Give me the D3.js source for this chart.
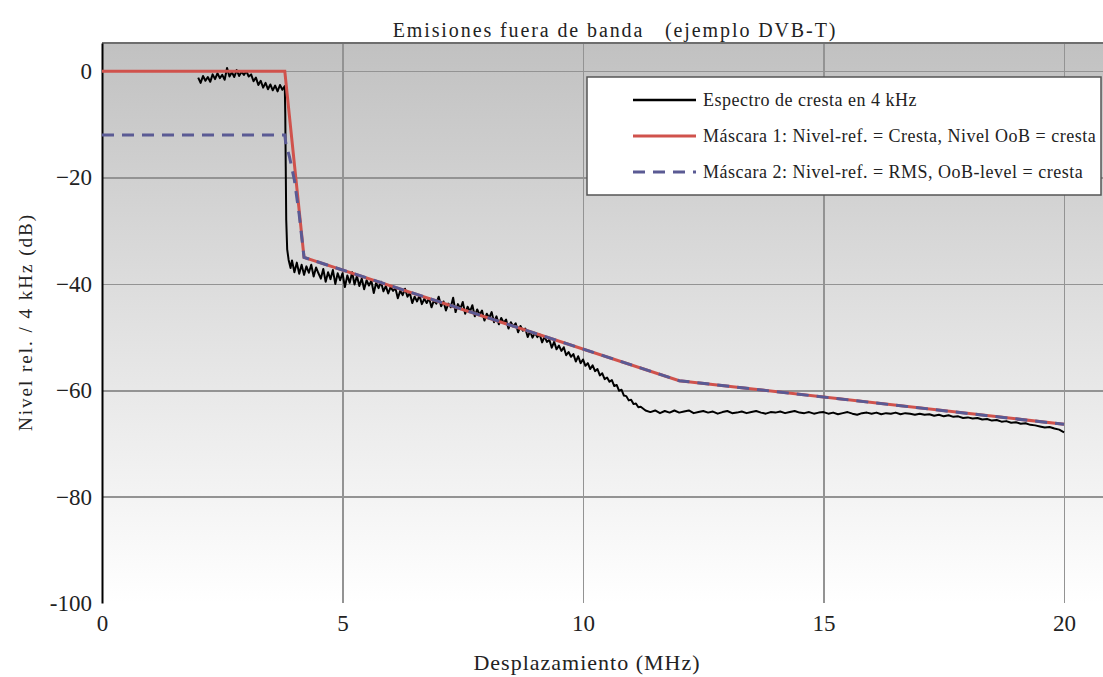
<!DOCTYPE html>
<html>
<head>
  <meta charset="utf-8">
  <title>Emisiones fuera de banda</title>
  <script src="https://cdn.jsdelivr.net/npm/d3@7"></script>
  <style type="text/css">
    body { margin: 0; background: #fff; }
    .grid line { stroke: #939393; stroke-width: 1.5; shape-rendering: crispEdges; }
  </style>
</head>
<body>
<script>
  var w = 1103, h = 677;
  var serif = "'Liberation Serif', 'Times New Roman', Times, serif";

  var xTicks = [0, 5, 10, 15, 20];
  var yTicks = [0, -20, -40, -60, -80, -100];
  var yTickLabels = ["0", "\u221220", "\u221240", "\u221260", "\u221280", "-100"];

  var legendLabels = [
    "Espectro de cresta en 4 kHz",
    "M\u00e1scara 1: Nivel-ref. = Cresta, Nivel OoB = cresta",
    "M\u00e1scara 2: Nivel-ref. = RMS, OoB-level = cresta"
  ];

  // mascara 1 (MHz, dB)
  var mask1 = [[0, 0], [3.8, 0], [4.2, -35], [12, -58.2], [20, -66.4]];
  // mascara 2
  var mask2 = [[0, -12], [3.8, -12], [3.82, -13.5], [3.9, -16.2], [4.0, -20.5],
               [4.1, -27], [4.2, -35], [12, -58.2], [20, -66.4]];

  // espectro medido, leido a mano del grafico
  var spectrum = [
    [2.00,-1.2],[2.05,-2.2],[2.10,-0.9],[2.15,-1.8],[2.20,-1.1],[2.25,-2.0],[2.30,-0.6],[2.35,-1.5],
    [2.40,-0.4],[2.45,-1.3],[2.50,-0.7],[2.55,-1.6],[2.60,0.6],[2.65,-1.0],[2.70,-0.2],[2.75,-1.1],
    [2.80,0.2],[2.85,-0.9],[2.90,-0.1],[2.95,-0.7],[3.00,0.0],[3.05,-1.0],[3.10,-0.6],[3.15,-1.9],
    [3.20,-1.2],[3.25,-2.6],[3.30,-1.8],[3.35,-3.1],[3.40,-2.2],[3.45,-3.4],[3.50,-2.5],[3.55,-3.6],
    [3.60,-2.7],[3.65,-3.8],[3.70,-2.6],[3.75,-3.5],[3.80,-2.8],[3.81,-8],[3.82,-18],[3.83,-28],
    [3.85,-33.5],[3.88,-35.5],[3.92,-37.0],[3.95,-35.6],[4.00,-37.8],[4.05,-36.0],[4.10,-38.1],[4.15,-36.4],
    [4.20,-38.3],[4.25,-36.7],[4.30,-37.9],[4.35,-36.4],[4.40,-38.6],[4.45,-36.9],[4.50,-38.0],[4.55,-39.0],
    [4.60,-37.2],[4.65,-39.6],[4.70,-37.8],[4.75,-39.1],[4.80,-37.4],[4.85,-40.0],[4.90,-38.0],[4.95,-39.3],
    [5.00,-38.0],[5.05,-40.6],[5.10,-38.4],[5.15,-39.8],[5.20,-37.8],[5.25,-40.1],[5.30,-38.5],[5.35,-40.4],
    [5.40,-39.0],[5.45,-41.0],[5.50,-39.3],[5.55,-40.3],[5.60,-39.4],[5.65,-41.7],[5.70,-39.8],[5.75,-40.8],
    [5.80,-39.6],[5.85,-41.4],[5.90,-40.4],[5.95,-41.8],[6.00,-40.6],[6.05,-41.3],[6.10,-40.8],[6.15,-42.7],
    [6.20,-41.3],[6.25,-42.1],[6.30,-40.9],[6.35,-42.4],[6.40,-41.7],[6.45,-43.6],[6.50,-42.4],[6.55,-43.3],
    [6.60,-42.2],[6.65,-43.8],[6.70,-42.8],[6.75,-43.6],[6.80,-42.7],[6.85,-44.4],[6.90,-43.1],[6.95,-43.7],
    [7.00,-42.4],[7.05,-44.2],[7.10,-43.3],[7.15,-45.0],[7.20,-43.7],[7.25,-44.4],[7.30,-42.6],[7.35,-45.3],
    [7.40,-43.8],[7.45,-44.7],[7.50,-43.4],[7.55,-45.6],[7.60,-44.3],[7.65,-45.2],[7.70,-44.0],[7.75,-46.1],
    [7.80,-44.8],[7.85,-45.8],[7.90,-45.0],[7.95,-46.9],[8.00,-45.6],[8.05,-46.4],[8.10,-45.3],[8.15,-47.2],
    [8.20,-46.1],[8.25,-47.6],[8.30,-46.4],[8.35,-47.3],[8.40,-46.7],[8.45,-48.4],[8.50,-47.2],[8.55,-48.0],
    [8.60,-47.4],[8.65,-49.1],[8.70,-47.9],[8.75,-48.8],[8.80,-48.4],[8.85,-50.0],[8.90,-48.9],[8.95,-50.1],
    [9.00,-49.2],[9.05,-50.0],[9.10,-49.5],[9.15,-51.0],[9.20,-49.9],[9.25,-50.9],[9.30,-50.5],[9.35,-52.0],
    [9.40,-50.9],[9.45,-52.3],[9.50,-51.6],[9.55,-52.6],[9.60,-51.9],[9.65,-53.4],[9.70,-52.8],[9.75,-53.7],
    [9.80,-53.2],[9.85,-54.6],[9.90,-53.6],[9.95,-54.9],[10.00,-54.2],[10.05,-55.4],[10.10,-54.9],[10.15,-56.0],
    [10.20,-55.3],[10.25,-56.4],[10.30,-56.0],[10.35,-57.2],[10.40,-56.8],[10.45,-57.9],[10.50,-57.6],[10.55,-58.4],
    [10.60,-58.1],[10.65,-59.2],[10.70,-59.0],[10.75,-60.1],[10.80,-59.9],[10.85,-61.0],[10.90,-61.1],[10.95,-61.9],
    [11.00,-61.8],[11.05,-62.6],[11.10,-62.5],[11.15,-63.2],[11.20,-63.1],[11.30,-63.8],[11.40,-64.1],[11.50,-63.8],
    [11.60,-64.3],[11.70,-63.9],[11.80,-64.2],[11.90,-63.8],[12.00,-64.2],[12.10,-64.0],[12.20,-63.8],[12.30,-64.3],
    [12.40,-64.1],[12.50,-63.9],[12.60,-64.2],[12.70,-64.0],[12.80,-64.4],[12.90,-64.1],[13.00,-63.9],[13.10,-64.3],
    [13.20,-64.2],[13.30,-64.0],[13.40,-64.3],[13.50,-64.1],[13.60,-63.9],[13.70,-64.2],[13.80,-64.4],[13.90,-64.1],
    [14.00,-64.2],[14.10,-64.0],[14.20,-64.3],[14.30,-64.1],[14.40,-63.9],[14.50,-64.2],[14.60,-64.3],[14.70,-64.1],
    [14.80,-64.4],[14.90,-64.2],[15.00,-64.1],[15.10,-64.4],[15.20,-64.2],[15.30,-64.5],[15.40,-64.3],[15.50,-64.1],
    [15.60,-64.4],[15.70,-64.6],[15.80,-64.3],[15.90,-64.2],[16.00,-64.4],[16.10,-64.2],[16.20,-64.5],[16.30,-64.3],
    [16.40,-64.4],[16.50,-64.2],[16.60,-64.5],[16.70,-64.3],[16.80,-64.4],[16.90,-64.6],[17.00,-64.4],[17.10,-64.6],
    [17.20,-64.5],[17.30,-64.8],[17.40,-64.6],[17.50,-64.9],[17.60,-64.7],[17.70,-65.0],[17.80,-64.9],[17.90,-65.2],
    [18.00,-65.1],[18.10,-65.3],[18.20,-65.2],[18.30,-65.5],[18.40,-65.4],[18.50,-65.7],[18.60,-65.6],[18.70,-65.9],
    [18.80,-65.8],[18.90,-66.1],[19.00,-66.0],[19.10,-66.3],[19.20,-66.2],[19.30,-66.5],[19.40,-66.6],[19.50,-66.8],
    [19.60,-67.0],[19.70,-66.9],[19.80,-67.2],[19.90,-67.4],[20.00,-67.9]
  ];

  var x = d3.scaleLinear().domain([0, 20.81]).range([102, 1103]);
  var y = d3.scaleLinear().domain([-100, 5.3]).range([603, 43]);

  var svg = d3.select("body").append("svg")
              .attr("width", w)
              .attr("height", h);

  var grad = svg.append("defs").append("linearGradient")
                .attr("id", "bg")
                .attr("x1", 0).attr("y1", 0).attr("x2", 0).attr("y2", 1);
  grad.append("stop").attr("offset", "0%").attr("stop-color", "#c1c1c1");
  grad.append("stop").attr("offset", "55%").attr("stop-color", "#e4e4e4");
  grad.append("stop").attr("offset", "100%").attr("stop-color", "#ffffff");

  svg.append("rect")
     .attr("x", x(0)).attr("y", y(5.3))
     .attr("width", x(20.81) - x(0))
     .attr("height", y(-100) - y(5.3))
     .attr("fill", "url(#bg)");

  // rejilla
  svg.append("g")
     .attr("class", "grid")
     .attr("transform", "translate(0," + y(-100) + ")")
     .call(d3.axisBottom(x).tickValues(xTicks.slice(1)).tickSize(-(y(-100) - y(5.3))).tickFormat(""))
     .call(function (g) { g.select(".domain").remove(); });

  svg.append("g")
     .attr("class", "grid")
     .attr("transform", "translate(" + x(0) + ",0)")
     .call(d3.axisLeft(y).tickValues(yTicks.slice(0, -1)).tickSize(-(x(20.81) - x(0))).tickFormat(""))
     .call(function (g) { g.select(".domain").remove(); });

  // borde superior
  svg.append("line")
     .attr("x1", x(0)).attr("x2", w)
     .attr("y1", y(5.3)).attr("y2", y(5.3))
     .attr("stroke", "#6e6e6e").attr("stroke-width", 2);

  // ejes
  var yAxis = svg.append("g")
     .attr("transform", "translate(" + x(0) + ",0)")
     .call(d3.axisLeft(y).tickValues(yTicks).tickSize(0).tickPadding(10)
             .tickFormat(function (d, i) { return yTickLabels[i]; }));
  yAxis.select(".domain").attr("stroke", "#000").attr("stroke-width", 2);

  var xAxis = svg.append("g")
     .attr("transform", "translate(0," + y(-100) + ")")
     .call(d3.axisBottom(x).tickValues(xTicks).tickSize(0).tickPadding(12));
  xAxis.select(".domain").remove();

  [xAxis, yAxis].forEach(function (a) {
    a.attr("font-family", null).attr("font-size", null);
    a.selectAll(".tick text")
     .style("font-family", serif)
     .style("font-size", "23px")
     .attr("fill", "#222");
  });

  var line = d3.line()
               .x(function (d) { return x(d[0]); })
               .y(function (d) { return y(d[1]); });

  svg.append("path")
     .datum(spectrum)
     .attr("d", line)
     .attr("fill", "none")
     .attr("stroke", "#000")
     .attr("stroke-width", 2)
     .attr("stroke-linejoin", "round");

  svg.append("path")
     .datum(mask1)
     .attr("d", line)
     .attr("fill", "none")
     .attr("stroke", "#d0524c")
     .attr("stroke-width", 3);

  svg.append("path")
     .datum(mask2)
     .attr("d", line)
     .attr("fill", "none")
     .attr("stroke", "#5a5a94")
     .attr("stroke-width", 3)
     .attr("stroke-dasharray", "12,8");

  // titulos
  svg.append("text")
     .attr("x", 615).attr("y", 37)
     .attr("text-anchor", "middle")
     .attr("fill", "#222")
     .style("font-family", serif)
     .style("font-size", "20px")
     .style("letter-spacing", "1.9px")
     .style("white-space", "pre")
     .text("Emisiones fuera de banda   (ejemplo DVB-T)");

  svg.append("text")
     .attr("x", 587).attr("y", 670)
     .attr("text-anchor", "middle")
     .attr("fill", "#222")
     .style("font-family", serif)
     .style("font-size", "22px")
     .style("letter-spacing", "1px")
     .text("Desplazamiento (MHz)");

  svg.append("text")
     .attr("transform", "translate(32,322) rotate(-90)")
     .attr("text-anchor", "middle")
     .attr("fill", "#222")
     .style("font-family", serif)
     .style("font-size", "19px")
     .style("letter-spacing", "2px")
     .text("Nivel rel. / 4 kHz (dB)");

  // leyenda
  var legend = svg.append("g").attr("transform", "translate(587,77)");
  legend.append("rect")
        .attr("width", 514).attr("height", 118)
        .attr("fill", "#fff")
        .attr("stroke", "#555").attr("stroke-width", 1.5);

  var legendStyles = [
    { color: "#000", width: 2.5, dash: null },
    { color: "#d0524c", width: 3, dash: null },
    { color: "#5a5a94", width: 3, dash: "12,8" }
  ];

  legend.selectAll("g.item")
        .data(legendLabels)
        .enter().append("g")
        .attr("class", "item")
        .attr("transform", function (d, i) { return "translate(0," + (23 + i * 36) + ")"; })
        .each(function (d, i) {
          var g = d3.select(this);
          g.append("line")
           .attr("x1", 46).attr("x2", 109)
           .attr("stroke", legendStyles[i].color)
           .attr("stroke-width", legendStyles[i].width)
           .attr("stroke-dasharray", legendStyles[i].dash);
          g.append("text")
           .attr("x", 116).attr("dy", "0.35em")
           .attr("fill", "#222")
           .style("font-family", serif)
           .style("font-size", "18px")
           .style("letter-spacing", "0.5px")
           .text(d);
        });
</script>
</body>
</html>
